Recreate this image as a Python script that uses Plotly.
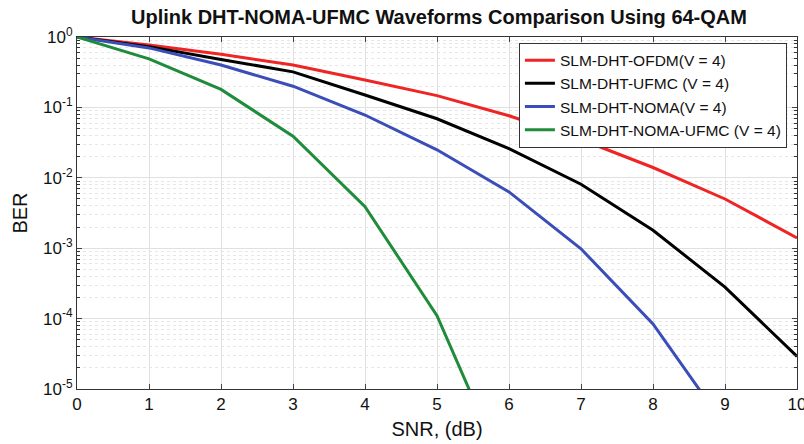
import plotly.graph_objects as go

snr = [0, 1, 2, 3, 4, 5, 6, 7, 8, 9, 10]
ber_ofdm = [1.0, 0.77, 0.57, 0.40, 0.245, 0.147, 0.076, 0.035, 0.014, 0.005, 0.0014]
ber_ufmc = [1.0, 0.73, 0.48, 0.32, 0.15, 0.069, 0.026, 0.0081, 0.0018, 0.00028, 0.000029]
ber_noma = [1.0, 0.70, 0.40, 0.20, 0.078, 0.025, 0.0063, 0.00098, 0.000084, 0.000003]
ber_noma_ufmc = [1.0, 0.49, 0.18, 0.039, 0.0039, 0.00011, 0.0000005]

names = ["SLM-DHT-OFDM(V = 4)", "SLM-DHT-UFMC (V = 4)", "SLM-DHT-NOMA(V = 4)", "SLM-DHT-NOMA-UFMC (V = 4)"]
colors = ["#ee2524", "#000000", "#3a4db8", "#1f8c3b"]
series = [ber_ofdm, ber_ufmc, ber_noma, ber_noma_ufmc]

ytick_vals = [1e-5, 1e-4, 1e-3, 1e-2, 1e-1, 1]
ytick_text = ["10<sup>-5</sup>", "10<sup>-4</sup>", "10<sup>-3</sup>", "10<sup>-2</sup>", "10<sup>-1</sup>", "10<sup>0</sup>"]
xtick_vals = [0, 1, 2, 3, 4, 5, 6, 7, 8, 9, 10]

fig = go.Figure()
for n, c, s in zip(names, colors, series):
    fig.add_trace(go.Scatter(x=snr[:len(s)], y=s, mode="lines", name=n,
                             line=dict(color=c, width=3)))

font = "Liberation Sans, Arial, sans-serif"
fig.update_layout(
    width=804, height=444,
    margin=dict(l=77, r=7, t=37, b=55),
    paper_bgcolor="white", plot_bgcolor="white",
    font=dict(family=font, size=16, color="#111111"),
    title=dict(text="<b>Uplink DHT-NOMA-UFMC Waveforms Comparison Using 64-QAM</b>",
               x=0.546, xanchor="center", y=0.962, yanchor="middle",
               font=dict(size=20, family=font, color="#111111")),
    showlegend=True,
    legend=dict(x=0.986, y=0.984, xanchor="right", yanchor="top",
                bgcolor="white", bordercolor="#333333", borderwidth=1,
                font=dict(size=15.5, family=font, color="#111111"),
                tracegroupgap=0, itemwidth=30),
)
fig.update_xaxes(
    range=[0, 10], tickvals=xtick_vals, ticks="inside", ticklen=5,
    showline=True, linecolor="#333333", linewidth=1, mirror="ticks",
    showgrid=True, gridcolor="#e0e0e0", gridwidth=1, zeroline=False,
    title=dict(text="SNR, (dB)", font=dict(size=20), standoff=8),
    tickfont=dict(size=17), ticklabeloverflow="allow", automargin=False,
)
fig.update_yaxes(
    type="log", range=[-5, 0], tickvals=ytick_vals, ticktext=ytick_text,
    ticks="inside", ticklen=5,
    showline=True, linecolor="#333333", linewidth=1, mirror="ticks",
    showgrid=True, gridcolor="#e0e0e0", gridwidth=1, zeroline=False,
    minor=dict(ticks="inside", ticklen=3, showgrid=True, gridcolor="#e6e6e6",
               griddash="dot", tickcolor="#333333", dtick="D1"),
    title=dict(text="BER", font=dict(size=20), standoff=10),
    tickfont=dict(size=17), ticklabeloverflow="allow", automargin=False,
)
fig.write_html("out.html", config={"displayModeBar": False},
               post_script="document.body.style.margin='0';")
